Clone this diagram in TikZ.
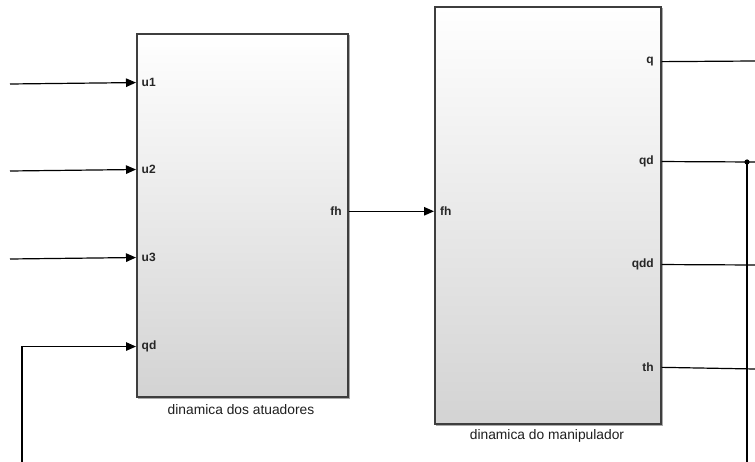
\documentclass[tikz,border=0pt]{standalone}
\usepackage{fontspec}
\setmainfont{Liberation Sans}
\usetikzlibrary{arrows.meta}
\definecolor{frame}{RGB}{62,62,62}
\definecolor{shadowgray}{RGB}{170,170,170}
\definecolor{blockbottom}{RGB}{211,211,211}
\definecolor{titletext}{RGB}{30,30,30}
\begin{document}
\begin{tikzpicture}[x=1pt,y=-1pt,
  blk/.style={draw=frame, line width=1.6pt, inner sep=0pt, anchor=north west,
    top color=white, middle color=white, bottom color=blockbottom,
    preaction={draw=shadowgray, line width=1.6pt,
      transform canvas={xshift=1.6pt,yshift=-1.6pt}}},
  port/.style={font=\bfseries\fontsize{12}{13}\selectfont, inner sep=0pt, text=black!85},
  title/.style={font=\fontsize{13.8}{15}\selectfont, text=titletext, inner sep=0pt},
  wire/.style={line width=1.2pt, black},
  arr/.style={wire, -{Triangle[length=10pt,width=8.5pt]}}]
\useasboundingbox (0,0) rectangle (755,462);

% blocks
\node[blk, minimum width=211pt, minimum height=363pt] (act) at (136,33) {};
\node[blk, minimum width=226pt, minimum height=417pt] (man) at (434,6) {};
\node[title] (act-title) at (241,410) {dinamica dos atuadores};
\node[title] (man-title) at (547,436) {dinamica do manipulador};

% input ports of the actuator block
\node[port, anchor=mid west] (a-u1) at (141.5,84) {u1};
\node[port, anchor=mid west] (a-u2) at (141.5,171) {u2};
\node[port, anchor=mid west] (a-u3) at (141.5,259) {u3};
\node[port, anchor=mid west] (a-qd) at (141.5,347) {qd};
\node[port, anchor=mid east] (a-fh) at (342,213) {fh};

% ports of the manipulator block
\node[port, anchor=mid west] (m-fh) at (440,213) {fh};
\node[port, anchor=mid east] (m-q) at (654,61) {q};
\node[port, anchor=mid east] (m-qd) at (654,162) {qd};
\node[port, anchor=mid east] (m-qdd) at (654,265) {qdd};
\node[port, anchor=mid east] (m-th) at (654,369) {th};

% free line ends
\coordinate (in1) at (10,84);
\coordinate (in2) at (10,171);
\coordinate (in3) at (10,259);
\coordinate (fb) at (22,462);
\coordinate (out-q) at (755,61);
\coordinate (out-qd) at (755,162);
\coordinate (out-qdd) at (755,265);
\coordinate (out-th) at (755,369);
\coordinate (br) at (747,162);
\coordinate (br-end) at (747,462);

% connectors
\draw[arr] (in1) -- (act.west |- a-u1);
\draw[arr] (in2) -- (act.west |- a-u2);
\draw[arr] (in3) -- (act.west |- a-u3);
\draw[arr] (fb) |- (act.west |- a-qd);
\draw[arr] (act.east |- a-fh) -- (man.west |- m-fh);
\draw[wire] (man.east |- m-q) -- (out-q);
\draw[wire] (man.east |- m-qd) -- (out-qd);
\draw[wire] (man.east |- m-qdd) -- (out-qdd);
\draw[wire] (man.east |- m-th) -- (out-th);
\draw[wire] (br) -- (br-end);
\fill (br) circle (2.6pt);
\end{tikzpicture}
\end{document}
